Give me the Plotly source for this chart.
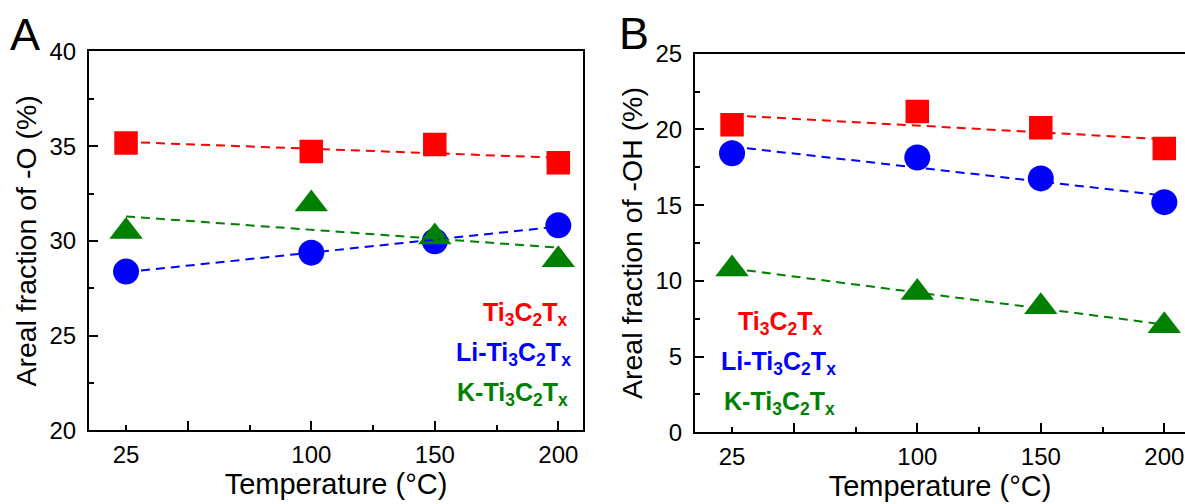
import numpy as np
import plotly.graph_objects as go

# Annealing temperatures (°C)
temps = [25, 100, 150, 200]

# Panel A: areal fraction of -O terminations (%)
o_pristine = [35.17, 34.72, 35.08, 34.12]
o_li = [28.38, 29.38, 29.98, 30.82]
o_k = [30.49, 31.95, 30.20, 29.00]

# Panel B: areal fraction of -OH terminations (%)
oh_pristine = [20.31, 21.19, 20.11, 18.74]
oh_li = [18.43, 18.15, 16.77, 15.20]
oh_k = [10.78, 9.24, 8.30, 7.03]

sample_names = ["Ti<sub>3</sub>C<sub>2</sub>T<sub>x</sub>",
                "Li-Ti<sub>3</sub>C<sub>2</sub>T<sub>x</sub>",
                "K-Ti<sub>3</sub>C<sub>2</sub>T<sub>x</sub>"]
colors = ["#ff0000", "#0000ff", "#008000"]
symbols = ["square", "circle", "triangle-up"]
sizes = [23.5, 26, 29]

tick_vals = [25, 100, 150, 200]
tick_text = ["25", "100", "150", "200"]

W, H = 1185, 504
FONT = "Liberation Sans, Arial, sans-serif"


def px_x(p):
    return p / W


def px_y(p):
    return 1 - p / H


# plot-area boxes in pixels: left, right, top, bottom
box_a = (89, 583, 39.5, 440)
box_b = (695, 1185, 42, 442)
units_per_px = 200 / (box_a[1] - box_a[0])
range_a = [10, 210]
range_b = [10, 10 + (box_b[1] - box_b[0]) * units_per_px]

fig = go.Figure()


def add_panel(xa, ya, series):
    for vals, col, sym, sz in zip(series, colors, symbols, sizes):
        fig.add_trace(go.Scatter(
            x=temps, y=vals, mode="markers", xaxis=xa, yaxis=ya,
            marker=dict(symbol=sym, size=sz, color=col, line=dict(width=0)),
            showlegend=False, hoverinfo="skip"))
    # linear fits drawn over the markers
    for vals, col in zip(series, colors):
        k, b = np.polyfit(temps, vals, 1)
        xs = np.array([temps[0], temps[-1]])
        fig.add_trace(go.Scatter(
            x=xs, y=k * xs + b, mode="lines", xaxis=xa, yaxis=ya,
            line=dict(color=col, width=2, dash="9px,6px"),
            showlegend=False, hoverinfo="skip"))


add_panel("x", "y", [o_pristine, o_li, o_k])
add_panel("x2", "y2", [oh_pristine, oh_li, oh_k])

# empty traces so the tick-mark overlay axes are drawn
fig.add_trace(go.Scatter(x=[None], y=[None], xaxis="x3", yaxis="y",
                         showlegend=False, hoverinfo="skip"))
fig.add_trace(go.Scatter(x=[None], y=[None], xaxis="x4", yaxis="y2",
                         showlegend=False, hoverinfo="skip"))

tick_font = dict(family=FONT, size=24, color="black")
xtitle_font = dict(family=FONT, size=29, color="black")
ytitle_font = dict(family=FONT, size=28.5, color="black")


def label_xaxis(box, rng, mirror=True):
    return dict(
        domain=[px_x(box[0]), px_x(box[1])], range=rng,
        tickmode="array", tickvals=tick_vals, ticktext=tick_text,
        ticks="", showgrid=False, zeroline=False,
        showline=True, linecolor="black", linewidth=2, mirror=mirror,
        tickfont=tick_font, ticklabelstandoff=2,
        title=dict(text="Temperature (°C)", font=xtitle_font, standoff=3))


def tick_xaxis(over, anchor, rng):
    return dict(
        overlaying=over, anchor=anchor, side="bottom", range=rng,
        tickmode="array", tickvals=[50, 100, 150, 200],
        ticks="inside", ticklen=9, tickwidth=2, tickcolor="black",
        showticklabels=False, showgrid=False, zeroline=False, showline=False,
        minor=dict(tickmode="array", tickvals=[25, 75, 125, 175],
                   ticks="inside", ticklen=5, tickwidth=2, tickcolor="black"))


def make_yaxis(box, rng, title, mirror=True):
    return dict(
        domain=[px_y(box[3]), px_y(box[2])], range=rng,
        dtick=5, tick0=0, ticks="inside", ticklen=9, tickwidth=2,
        tickcolor="black",
        minor=dict(dtick=2.5, ticks="inside", ticklen=5, tickwidth=2,
                   tickcolor="black"),
        showgrid=False, zeroline=False,
        showline=True, linecolor="black", linewidth=2, mirror=mirror,
        tickfont=tick_font, ticklabelstandoff=6,
        title=dict(text=title, font=ytitle_font, standoff=5))


fig.update_layout(
    width=W, height=H,
    margin=dict(l=0, r=0, t=0, b=0),
    paper_bgcolor="white", plot_bgcolor="white",
    showlegend=False,
    xaxis=dict(anchor="y", **label_xaxis(box_a, range_a)),
    xaxis2=dict(anchor="y2", **label_xaxis(box_b, range_b)),
    xaxis3=tick_xaxis("x", "y", range_a),
    xaxis4=tick_xaxis("x2", "y2", range_b),
    yaxis=dict(anchor="x", **make_yaxis(box_a, [20, 40], "Areal fraction of -O (%)")),
    yaxis2=dict(anchor="x2", **make_yaxis(box_b, [0, 25], "Areal fraction of -OH (%)", mirror=False)),
)

# panel letters
for letter, cx, cy in [("A", 25, 22), ("B", 634, 21)]:
    fig.add_annotation(text=letter, x=px_x(cx), y=px_y(cy), xref="paper", yref="paper",
                       showarrow=False, xanchor="center", yanchor="middle",
                       font=dict(family=FONT, size=45, color="black"))

# sample labels inside each panel
label_pos_a = [(525, 317), (513.5, 359), (512.5, 401)]
label_pos_b = [(780, 327), (778, 369), (779.5, 411)]
for pos in (label_pos_a, label_pos_b):
    for (cx, cy), name, col in zip(pos, sample_names, colors):
        fig.add_annotation(text="<b>" + name + "</b>", x=px_x(cx), y=px_y(cy),
                           xref="paper", yref="paper", showarrow=False,
                           xanchor="center", yanchor="middle",
                           font=dict(family=FONT, size=25, color=col))

fig.write_html("out.html")
